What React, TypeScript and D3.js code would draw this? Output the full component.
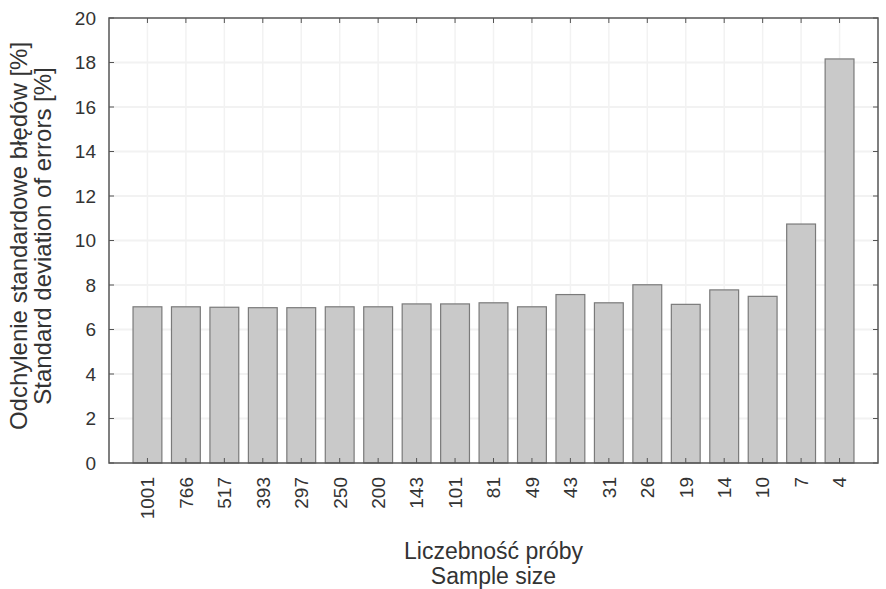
import React from "react";
import * as d3 from "d3";

const categories = ["1001", "766", "517", "393", "297", "250", "200", "143", "101", "81", "49", "43", "31", "26", "19", "14", "10", "7", "4"];
const values = [7.02, 7.02, 7.0, 6.98, 6.98, 7.02, 7.02, 7.15, 7.15, 7.2, 7.02, 7.57, 7.2, 8.01, 7.13, 7.78, 7.49, 10.74, 18.16];
const yTicks = [0, 2, 4, 6, 8, 10, 12, 14, 16, 18, 20];
const yTitle = ["Odchylenie standardowe błędów [%]", "Standard deviation of errors [%]"];
const xTitle = ["Liczebność próby", "Sample size"];

const W = 886, H = 589;
const L = 109, R = 878, T = 18, B = 463;
const FONT = "'Liberation Sans', Arial, sans-serif";
const TXT = "#333";

export default function App() {
  const x = d3.scaleLinear().domain([0, categories.length + 1]).range([L, R]);
  const y = d3.scaleLinear().domain([0, 20]).range([B, T]);
  const step = x(1) - x(0);
  const bw = step * 0.75;
  const tk = 5;
  return (
    <svg width={W} height={H} style={{ position: "absolute", left: 0, top: 0, background: "#fff" }} fontFamily={FONT}>
      {/* faint grid */}
      {yTicks.slice(1, -1).map((t) => (
        <line key={"gy" + t} x1={L} x2={R} y1={y(t)} y2={y(t)} stroke="#f2f2f2" strokeWidth={2} />
      ))}
      {categories.map((c, i) => (
        <line key={"gx" + c} x1={x(i + 1)} x2={x(i + 1)} y1={T} y2={B} stroke="#f2f2f2" strokeWidth={1.5} />
      ))}
      {/* bars */}
      {values.map((v, i) => (
        <rect key={"b" + i} x={x(i + 1) - bw / 2} y={y(v)} width={bw} height={y(0) - y(v)} fill="#c9c9c9" stroke="#7a7a7a" strokeWidth={1.2} />
      ))}
      {/* ticks */}
      {yTicks.map((t) => (
        <g key={"yt" + t}>
          <line x1={L} x2={L + tk} y1={y(t)} y2={y(t)} stroke="#555" />
          <line x1={R} x2={R - tk} y1={y(t)} y2={y(t)} stroke="#555" />
          <text x={96} y={y(t)} dy="0.36em" textAnchor="end" fontSize={19} fill={TXT}>{t}</text>
        </g>
      ))}
      {categories.map((c, i) => (
        <g key={"xt" + c}>
          <line x1={x(i + 1)} x2={x(i + 1)} y1={B} y2={B - tk} stroke="#555" />
          <line x1={x(i + 1)} x2={x(i + 1)} y1={T} y2={T + tk} stroke="#555" />
          <text transform={`translate(${x(i + 1)},477) rotate(-90)`} dy="0.36em" textAnchor="end" fontSize={19} fill={TXT}>{c}</text>
        </g>
      ))}
      {/* frame */}
      <rect x={L} y={T} width={R - L} height={B - T} fill="none" stroke="#555" strokeWidth={1.5} />
      {/* titles */}
      <text x={(L + R) / 2} y={559} textAnchor="middle" fontSize={23} fill={TXT}>{xTitle[0]}</text>
      <text x={(L + R) / 2} y={584} textAnchor="middle" fontSize={23} fill={TXT}>{xTitle[1]}</text>
      <text transform={`translate(27,236) rotate(-90)`} textAnchor="middle" fontSize={24} fill={TXT}>{yTitle[0]}</text>
      <text transform={`translate(51,236) rotate(-90)`} textAnchor="middle" fontSize={24} fill={TXT}>{yTitle[1]}</text>
    </svg>
  );
}
